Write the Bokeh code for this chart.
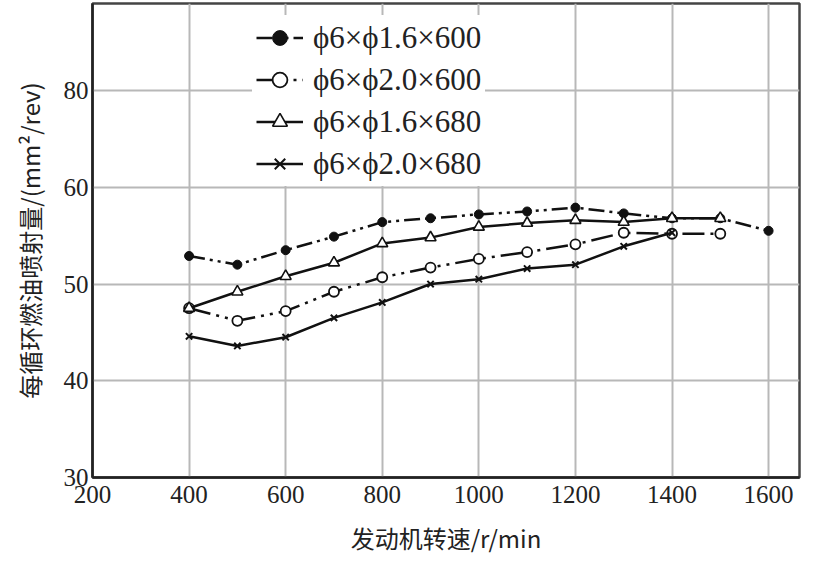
from bokeh.plotting import figure
from bokeh.models import Legend, LegendItem, FixedTicker, Range1d
from bokeh.embed import file_html
from bokeh.resources import INLINE

# engine speed (r/min)
x_s1 = [400, 500, 600, 700, 800, 900, 1000, 1100, 1200, 1300, 1400, 1500, 1600]
y_s1 = [52.9, 52.0, 53.5, 54.9, 56.4, 56.8, 57.2, 57.5, 57.9, 57.3, 56.8, 56.8, 55.5]

x_s2 = [400, 500, 600, 700, 800, 900, 1000, 1100, 1200, 1300, 1400, 1500]
y_s2 = [47.5, 46.2, 47.2, 49.2, 50.7, 51.7, 52.6, 53.3, 54.1, 55.3, 55.2, 55.2]

x_s3 = [400, 500, 600, 700, 800, 900, 1000, 1100, 1200, 1300, 1400, 1500]
y_s3 = [47.5, 49.2, 50.8, 52.2, 54.2, 54.8, 55.9, 56.3, 56.6, 56.4, 56.8, 56.8]

x_s4 = [400, 500, 600, 700, 800, 900, 1000, 1100, 1200, 1300, 1400]
y_s4 = [44.6, 43.6, 44.5, 46.5, 48.1, 50.0, 50.5, 51.6, 52.0, 53.9, 55.3]

labels = ["ϕ6×ϕ1.6×600", "ϕ6×ϕ2.0×600", "ϕ6×ϕ1.6×680", "ϕ6×ϕ2.0×680"]

x_ticks = [200, 400, 600, 800, 1000, 1200, 1400, 1600]
y_ticks = [30, 40, 50, 60, 70]
y_tick_labels = {30: "30", 40: "40", 50: "50", 60: "60", 70: "80"}

x_title = "发动机转速/r/min"
y_title = "每循环燃油喷射量/(mm²/rev)"

SERIF = "serif"
CJK = "Noto Sans CJK SC"
INK = "#111111"

p = figure(width=802, height=557, output_backend="svg", toolbar_location=None,
           x_range=Range1d(200, 1664), y_range=Range1d(30, 79),
           min_border_left=92, min_border_right=3, min_border_top=3,
           min_border_bottom=79)

p.background_fill_color = "white"
p.border_fill_color = "white"
p.outline_line_color = "#444444"
p.outline_line_width = 2.5

for ax in (p.xaxis[0], p.yaxis[0]):
    ax.axis_line_color = "#222222"
    ax.axis_line_width = 2.5
    ax.major_tick_out = 0
    ax.major_tick_in = 0
    ax.minor_tick_out = 0
    ax.minor_tick_in = 0
    ax.major_label_text_font = SERIF
    ax.major_label_text_font_size = "25px"
    ax.major_label_text_color = "#222222"
    ax.axis_label_text_font = CJK
    ax.axis_label_text_font_style = "normal"
    ax.axis_label_text_color = "#222222"

p.xaxis[0].ticker = FixedTicker(ticks=x_ticks)
p.yaxis[0].ticker = FixedTicker(ticks=y_ticks)
p.yaxis[0].major_label_overrides = y_tick_labels
p.xaxis[0].major_label_standoff = 8
p.yaxis[0].major_label_standoff = 4
p.xaxis[0].axis_label = x_title
p.yaxis[0].axis_label = y_title
p.xaxis[0].axis_label_text_font_size = "24px"
p.yaxis[0].axis_label_text_font_size = "24px"
p.xaxis[0].axis_label_standoff = 14
p.yaxis[0].axis_label_standoff = 14

p.xgrid.ticker = FixedTicker(ticks=x_ticks)
p.ygrid.ticker = FixedTicker(ticks=y_ticks)
for g in (p.xgrid[0], p.ygrid[0]):
    g.grid_line_color = "#b8b8b8"
    g.grid_line_width = 2

l1 = p.line(x_s1, y_s1, line_color=INK, line_width=2.5, line_dash="16 5 3 5 3 5")
m1 = p.scatter(x_s1, y_s1, marker="circle", size=9, fill_color=INK, line_color=INK)

l2 = p.line(x_s2, y_s2, line_color=INK, line_width=2.5, line_dash="22 6 3 6 3 6")
m2 = p.scatter(x_s2, y_s2, marker="circle", size=10, fill_color="white",
               line_color=INK, line_width=1.8)

l3 = p.line(x_s3, y_s3, line_color=INK, line_width=2.5)
m3 = p.scatter(x_s3, y_s3, marker="triangle", size=11, fill_color="white",
               line_color=INK, line_width=1.6)

l4 = p.line(x_s4, y_s4, line_color=INK, line_width=2.5)
m4 = p.scatter(x_s4, y_s4, marker="x", size=9, line_color=INK, line_width=2)

legend = Legend(items=[
    LegendItem(label=labels[0], renderers=[l1, m1]),
    LegendItem(label=labels[1], renderers=[l2, m2]),
    LegendItem(label=labels[2], renderers=[l3, m3]),
    LegendItem(label=labels[3], renderers=[l4, m4]),
], location=(160, 291))
legend.background_fill_alpha = 1.0
legend.background_fill_color = "white"
legend.border_line_alpha = 0
legend.label_text_font = SERIF
legend.label_text_font_size = "31px"
legend.label_text_color = "#222222"
legend.glyph_width = 47
legend.glyph_height = 37
legend.label_height = 37
legend.spacing = 5
legend.padding = 4
legend.label_standoff = 10
legend.margin = 0
p.add_layout(legend)

open("out.html", "w").write(file_html(p, INLINE))
